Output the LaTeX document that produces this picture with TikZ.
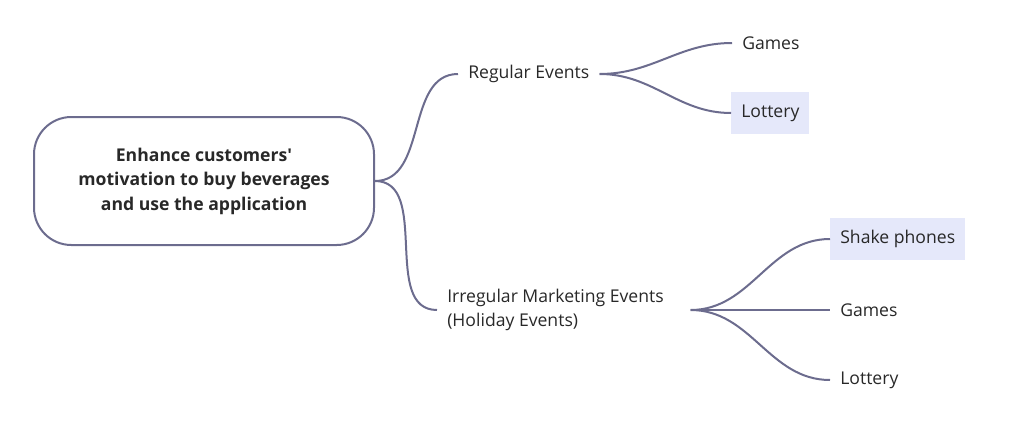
\documentclass[tikz,border=0pt]{standalone}
\usepackage{fontspec}
\setmainfont{Open Sans}
\definecolor{linec}{RGB}{108,108,142}
\definecolor{hl}{RGB}{229,232,250}
\definecolor{txt}{RGB}{40,40,40}
\begin{document}
\begin{tikzpicture}[x=0.75pt,y=-0.75pt,
  every node/.style={font=\fontsize{13.2}{18.6}\selectfont,text=txt},
  rootbox/.style={draw=linec,line width=1.5pt,rounded corners=28pt,minimum width=255pt,minimum height=96pt,align=center,font=\fontsize{13.2}{18.4}\selectfont\bfseries},
  leaf/.style={inner xsep=7.5pt,inner ysep=0pt,minimum height=31.5pt,anchor=west},
  hlleaf/.style={leaf,fill=hl},
  conn/.style={draw=linec,line width=1.5pt,out=0,in=180}]
\useasboundingbox (0,0) rectangle (1016,421);
\node[rootbox] (root) at (204,181) {\raisebox{-1.5pt}{\begin{tabular}{@{}c@{}}Enhance customers\textquotesingle\\motivation to buy beverages\\and use the application\end{tabular}}};
\node[leaf] (reg) at (458,74) {Regular Events};
\node[leaf,text width=174.75pt,align=flush left] (irr) at (437,310) {Irregular Marketing Events\\(Holiday Events)};
\node[leaf] (g1) at (732,43) {Games};
\node[hlleaf] (l1) at (731,113) {Lottery};
\node[hlleaf] (sp) at (830,239) {Shake phones};
\node[leaf] (g2) at (830,310) {Games};
\node[leaf] (l2) at (830,380) {Lottery};
\draw[conn] (root.east) to (reg.west);
\draw[conn] (root.east) to (irr.west);
\draw[conn] (reg.east) to (g1.west);
\draw[conn] (reg.east) to (l1.west);
\draw[conn] (irr.east) to (sp.west);
\draw[conn] (irr.east) to (g2.west);
\draw[conn] (irr.east) to (l2.west);
\end{tikzpicture}
\end{document}
